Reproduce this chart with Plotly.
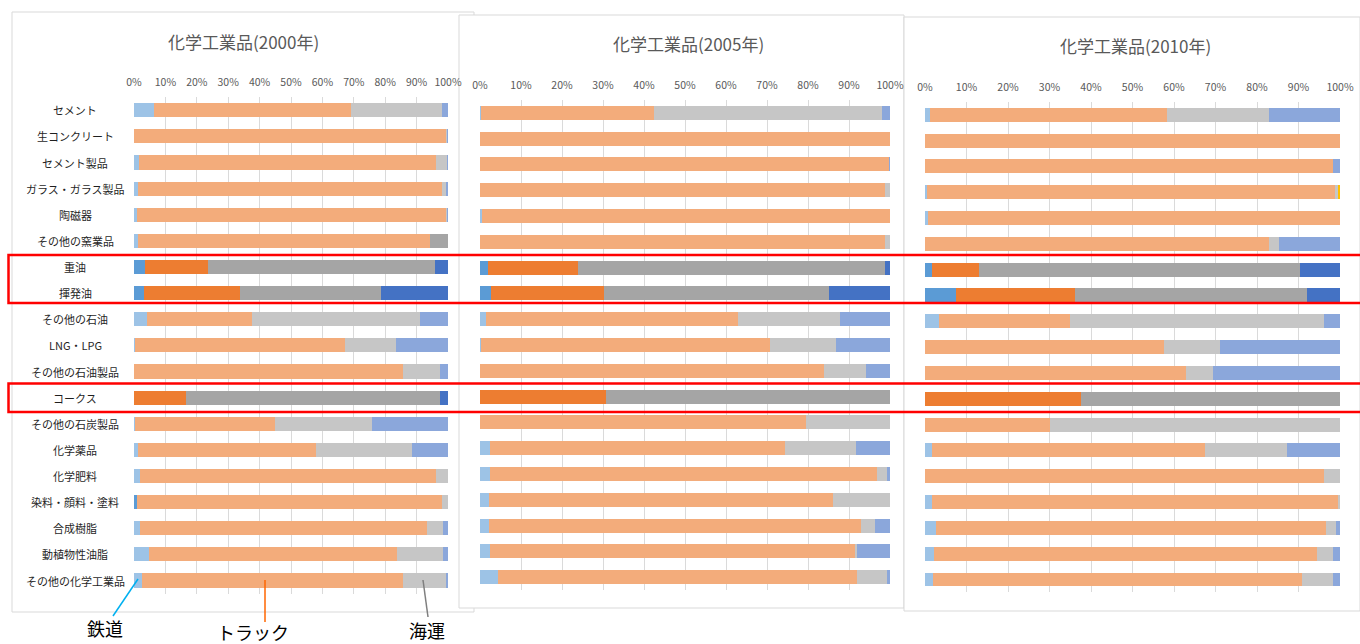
import plotly.graph_objects as go

# ---- data -------------------------------------------------------------
categories = [
    "セメント", "生コンクリート", "セメント製品", "ガラス・ガラス製品", "陶磁器",
    "その他の窯業品", "重油", "揮発油", "その他の石油", "LNG・LPG",
    "その他の石油製品", "コークス", "その他の石炭製品", "化学薬品", "化学肥料",
    "染料・顔料・塗料", "合成樹脂", "動植物性油脂", "その他の化学工業品",
]

years = ["2000", "2005", "2010"]
tick_values = [0, 10, 20, 30, 40, 50, 60, 70, 80, 90, 100]
tick_labels = ["0%", "10%", "20%", "30%", "40%", "50%", "60%", "70%", "80%", "90%", "100%"]

rail_2000 = [6.5, 0.0, 1.5, 1.2, 0.9, 1.2, 3.6, 3.2, 4.1, 0.4, 0.0, 0.0, 0.3, 1.4, 1.8, 1.1, 1.8, 4.8, 2.4]
truck_2000 = [62.5, 99.6, 94.6, 96.9, 98.7, 93.0, 19.9, 30.6, 33.4, 66.8, 85.7, 16.4, 44.7, 56.7, 94.4, 97.0, 91.6, 79.1, 83.3]
ship_2000 = [29.0, 0.2, 3.6, 1.5, 0.2, 5.8, 72.3, 44.8, 53.5, 16.2, 11.7, 81.0, 30.8, 30.4, 3.8, 1.9, 5.0, 14.5, 13.6]
other_2000 = [2.0, 0.2, 0.3, 0.4, 0.2, 0.0, 4.2, 21.4, 9.0, 16.6, 2.6, 2.6, 24.2, 11.5, 0.0, 0.0, 1.6, 1.6, 0.7]
air_2000 = [0.0] * 19

rail_2005 = [0.2, 0.0, 0.0, 0.1, 0.6, 0.1, 1.9, 2.6, 1.5, 0.3, 0.0, 0.0, 0.0, 2.4, 2.5, 2.1, 2.1, 2.5, 4.3]
truck_2005 = [42.2, 100.0, 99.9, 98.8, 99.4, 98.7, 22.1, 27.6, 61.4, 70.4, 83.9, 30.7, 79.5, 71.9, 94.3, 83.9, 90.8, 89.2, 87.7]
ship_2005 = [55.6, 0.0, 0.0, 1.1, 0.0, 1.2, 74.9, 54.9, 24.8, 16.1, 10.3, 69.3, 20.5, 17.5, 2.4, 14.0, 3.4, 0.3, 7.3]
other_2005 = [2.0, 0.0, 0.1, 0.0, 0.0, 0.0, 1.1, 14.9, 12.3, 13.2, 5.8, 0.0, 0.0, 8.2, 0.8, 0.0, 3.7, 8.0, 0.7]
air_2005 = [0.0] * 19

rail_2010 = [1.2, 0.0, 0.0, 0.5, 0.8, 0.0, 1.6, 7.4, 3.4, 0.1, 0.0, 0.0, 0.0, 1.6, 0.1, 1.8, 2.7, 2.2, 2.0]
truck_2010 = [57.1, 100.0, 98.3, 98.2, 99.2, 82.8, 11.4, 28.8, 31.6, 57.6, 62.8, 37.6, 30.1, 65.9, 96.1, 97.8, 94.0, 92.3, 88.9]
ship_2010 = [24.7, 0.0, 0.0, 0.8, 0.0, 2.4, 77.4, 55.9, 61.2, 13.4, 6.7, 62.4, 69.9, 19.8, 3.8, 0.4, 2.4, 3.7, 7.4]
other_2010 = [17.0, 0.0, 1.7, 0.0, 0.0, 14.8, 9.6, 7.9, 3.8, 28.9, 30.5, 0.0, 0.0, 12.7, 0.0, 0.0, 0.9, 1.8, 1.7]
air_2010 = [0.0, 0.0, 0.0, 0.5, 0.0, 0.0, 0.0, 0.0, 0.0, 0.0, 0.0, 0.0, 0.0, 0.0, 0.0, 0.0, 0.0, 0.0, 0.0]

mode_names = ["鉄道", "トラック", "海運", "その他", "航空"]
series_by_year = {
    "2000": [rail_2000, truck_2000, ship_2000, other_2000, air_2000],
    "2005": [rail_2005, truck_2005, ship_2005, other_2005, air_2005],
    "2010": [rail_2010, truck_2010, ship_2010, other_2010, air_2010],
}

highlight_rows = ["重油", "揮発油", "コークス"]

# ---- styling ----------------------------------------------------------
light_colors = ["#9DC3E6", "#F3AC7B", "#C6C6C6", "#8BA7DB", "#FFC000"]
dark_colors = ["#5B9BD5", "#ED7D31", "#A5A5A5", "#4472C4", "#FFC000"]
# individual cells shown in the saturated shade outside the highlighted rows
extra_dark = {("2000", "その他の窯業品", 2), ("2000", "染料・顔料・塗料", 0)}

W, H = 1360, 644


def px(x):
    return x / W


def py(y):
    return 1 - y / H


# plot-area geometry of each panel (pixels) plus its title and frame
panels = [
    dict(year="2000", x0=134, x1=448, top=97.2, bottom=593.6,
         tx=243, ty=42, frame=(12, 12, 474, 612)),
    dict(year="2005", x0=480, x1=890, top=99.9, bottom=590.1,
         tx=688, ty=43, frame=(459, 15, 904, 608)),
    dict(year="2010", x0=925, x1=1340, top=101.8, bottom=592.4,
         tx=1135, ty=46, frame=(904, 17, 1360, 611)),
]

fig = go.Figure()
shapes = []
annotations = []

for i, p in enumerate(panels):
    n = "" if i == 0 else str(i + 1)
    xa, ya = "x" + n, "y" + n
    for s, name in enumerate(mode_names):
        vals = series_by_year[p["year"]][s]
        colors = []
        for cat in categories:
            dark = cat in highlight_rows or (p["year"], cat, s) in extra_dark
            colors.append(dark_colors[s] if dark else light_colors[s])
        fig.add_trace(go.Bar(
            x=vals, y=categories, orientation="h", name=name,
            marker=dict(color=colors, line=dict(width=0)),
            xaxis=xa, yaxis=ya, showlegend=False,
            hovertemplate=name + " %{y}: %{x:.1f}%<extra></extra>",
        ))

    fig.update_layout(**{
        "xaxis" + n: dict(
            domain=[px(p["x0"]), px(p["x1"])], anchor=ya, side="top",
            range=[0, 100], tickmode="array",
            tickvals=tick_values, ticktext=tick_labels,
            showgrid=True, gridcolor="rgba(150,150,150,0.35)", gridwidth=1,
            zeroline=False, showline=False, ticks="", automargin=False,
            ticklabelstandoff=8, layer="above traces",
            tickfont=dict(family="Noto Sans CJK JP", size=10.5, color="#595959"),
            fixedrange=True,
        ),
        "yaxis" + n: dict(
            domain=[py(p["bottom"]), py(p["top"])], anchor=xa,
            type="category", categoryorder="array", categoryarray=categories,
            autorange="reversed", showticklabels=False, showgrid=False,
            zeroline=False, showline=False, ticks="", automargin=False,
            fixedrange=True,
        ),
    })

    fx0, fy0, fx1, fy1 = p["frame"]
    shapes.append(dict(type="rect", xref="paper", yref="paper", layer="below",
                       x0=px(fx0), x1=px(fx1), y0=py(fy1), y1=py(fy0),
                       line=dict(color="#D9D9D9", width=1), fillcolor="white"))

    annotations.append(dict(
        text=f"化学工業品({p['year']}年)", xref="paper", yref="paper",
        x=px(p["tx"]), y=py(p["ty"]), xanchor="center", yanchor="middle",
        showarrow=False,
        font=dict(family="Noto Sans CJK JP", size=17, color="#595959"),
    ))

# category labels, centred in the left margin of the first panel
for cat in categories:
    annotations.append(dict(
        text=cat, xref="paper", yref="y", x=px(75), y=cat,
        xanchor="center", yanchor="middle", showarrow=False,
        font=dict(family="Noto Sans CJK JP", size=11, color="#1F1F1F"),
    ))

# red frames around the highlighted commodities (open to the right edge)
for (ry0, ry1) in [(255, 303), (383.5, 412)]:
    xl, xr = px(8.5), 1.0
    yt, yb = py(ry0), py(ry1)
    shapes.append(dict(type="path", xref="paper", yref="paper", layer="above",
                       path=f"M {xr},{yt} L {xl},{yt} L {xl},{yb} L {xr},{yb}",
                       line=dict(color="#FF0000", width=2.5)))

# mode call-outs under the first panel
callouts = [
    ("鉄道", 105, 628, (138, 579), (113, 616), "#00B0F0"),
    ("トラック", 253, 632, (265, 580), (265, 622), "#FF6600"),
    ("海運", 427, 630, (423, 580), (428, 617), "#7F7F7F"),
]
for label, lx, ly, (ax0, ay0), (ax1, ay1), col in callouts:
    shapes.append(dict(type="line", xref="paper", yref="paper", layer="above",
                       x0=px(ax0), y0=py(ay0), x1=px(ax1), y1=py(ay1),
                       line=dict(color=col, width=1.5)))
    annotations.append(dict(
        text=label, xref="paper", yref="paper", x=px(lx), y=py(ly),
        xanchor="center", yanchor="middle", showarrow=False,
        font=dict(family="Noto Sans CJK JP", size=18, color="#000000"),
    ))

fig.update_layout(
    width=W, height=H,
    margin=dict(l=0, r=0, t=0, b=0, pad=0, autoexpand=False),
    paper_bgcolor="white", plot_bgcolor="rgba(0,0,0,0)",
    barmode="stack", barnorm="percent", bargap=0.46,
    shapes=shapes, annotations=annotations,
)

fig.write_html("out.html")
